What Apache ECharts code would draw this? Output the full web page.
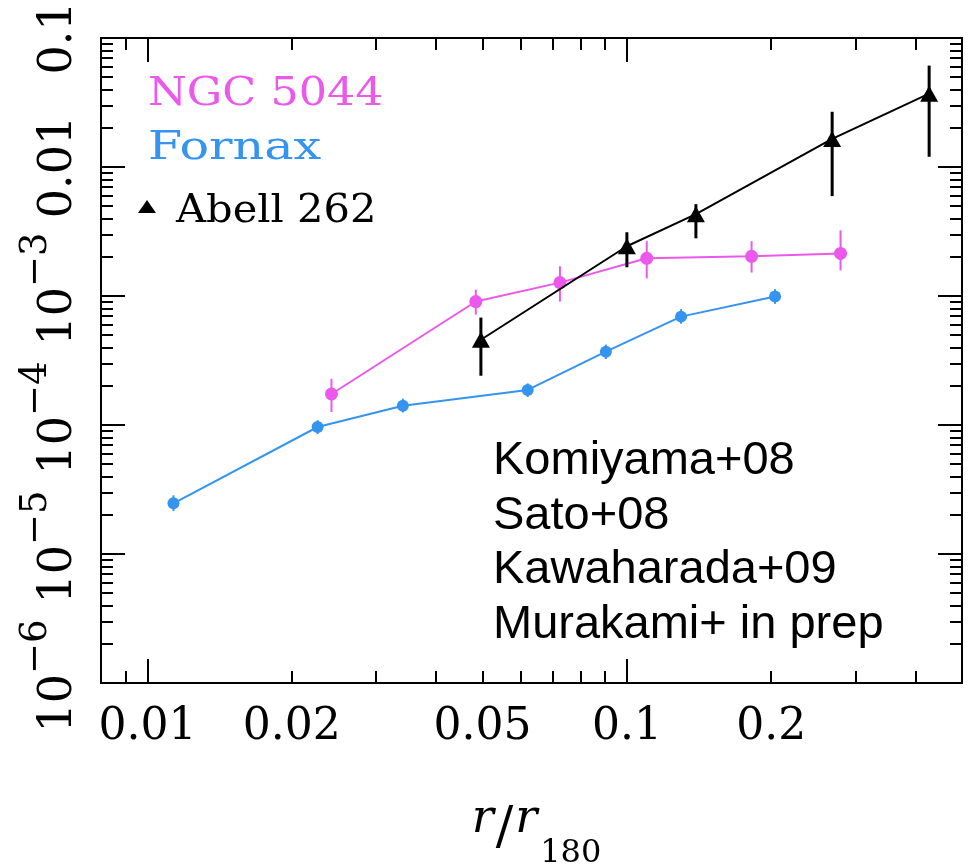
<!DOCTYPE html>
<html>
<head>
<meta charset="utf-8">
<script src="https://cdn.jsdelivr.net/npm/echarts@6/dist/echarts.min.js"></script>
<style>
  html, body { margin: 0; padding: 0; background: #fff; }
  #chart { width: 971px; height: 866px; }
</style>
</head>
<body>
<div id="chart"></div>
<script>
// ---- radial profiles (x = r/r180) ----
const ngcX  = [0.0242, 0.0484, 0.0725, 0.110, 0.182, 0.279];
const ngcY  = [1.74e-4, 9.06e-4, 1.27e-3, 1.96e-3, 2.03e-3, 2.14e-3];
const ngcLo = [1.26e-4, 7.18e-4, 9.06e-4, 1.37e-3, 1.52e-3, 1.58e-3];
const ngcHi = [2.28e-4, 1.12e-3, 1.70e-3, 2.66e-3, 2.66e-3, 3.23e-3];

const fnxX  = [0.01133, 0.02264, 0.0341, 0.0621, 0.0904, 0.1297, 0.2037];
const fnxY  = [2.47e-5, 9.65e-5, 1.41e-4, 1.87e-4, 3.70e-4, 6.92e-4, 9.9e-4];
const fnxLo = [2.15e-5, 8.5e-5, 1.25e-4, 1.65e-4, 3.25e-4, 6.1e-4, 8.7e-4];
const fnxHi = [2.85e-5, 1.09e-4, 1.6e-4, 2.1e-4, 4.2e-4, 7.9e-4, 1.13e-3];

const a262X  = [0.0496, 0.100, 0.1393, 0.268, 0.427];
const a262Y  = [4.58e-4, 2.43e-3, 4.31e-3, 1.65e-2, 3.70e-2];
const a262Lo = [2.41e-4, 1.67e-3, 2.80e-3, 5.95e-3, 1.20e-2];
const a262Hi = [6.80e-4, 3.12e-3, 5.15e-3, 2.68e-2, 6.11e-2];

// ---- axes ----
const xRange = [0.008, 0.5];
const yRange = [1e-6, 0.1];
const xLabelValues = [0.01, 0.02, 0.05, 0.1, 0.2];
const xLabelText   = ['0.01', '0.02', '0.05', '0.1', '0.2'];
const xMajorTicks  = [0.01, 0.1];
const xMinorTicks  = [0.008, 0.009, 0.02, 0.03, 0.04, 0.05, 0.06, 0.07, 0.08, 0.09,
                      0.2, 0.3, 0.4, 0.5];
const yLabelValues = [1e-6, 1e-5, 1e-4, 1e-3, 0.01, 0.1];
const yLabelBase   = ['10', '10', '10', '10', '0.01', '0.1'];
const yLabelExp    = ['−6', '−5', '−4', '−3', '', ''];
const yMajorTicks  = [1e-6, 1e-5, 1e-4, 1e-3, 0.01, 0.1];
const yMinorTicks  = [];
[1e-6, 1e-5, 1e-4, 1e-3, 0.01].forEach(function (d) {
  for (let k = 2; k <= 9; k++) yMinorTicks.push(+(d * k).toPrecision(3));
});

const INK = '#000';
const PINK = '#ec58ec';
const BLUE = '#3494f0';
const SERIF = '"DejaVu Serif", "Liberation Serif", serif';

function pairs(xs, ys) { return xs.map(function (x, i) { return [x, ys[i]]; }); }
function idxOf(arr, v) {
  for (let i = 0; i < arr.length; i++) if (Math.abs(Math.log10(arr[i]) - Math.log10(v)) < 1e-6) return i;
  return -1;
}

function xAxisDef(pos, ticks, len, labels) {
  return {
    type: 'log', logBase: 10, min: xRange[0], max: xRange[1], position: pos,
    axisLine: { show: true, onZero: false, lineStyle: { color: INK, width: 2 } },
    axisTick: { show: true, inside: true, length: len, customValues: ticks,
                lineStyle: { color: INK, width: 2 } },
    axisLabel: labels ? {
      show: true, customValues: xLabelValues, margin: 23,
      fontFamily: SERIF, fontSize: 44, lineHeight: 44, color: INK,
      formatter: function (v) { const i = idxOf(xLabelValues, v); return i >= 0 ? xLabelText[i] : ''; }
    } : { show: false },
    splitLine: { show: false }, minorTick: { show: false },
    name: labels ? '{i|r}{n|/}{i|r}{s|180}' : '',
    nameLocation: 'middle', nameGap: 114,
    nameTextStyle: {
      color: INK, padding: [0, 0, 0, 10],
      rich: {
        i: { fontFamily: SERIF, fontStyle: 'italic', fontSize: 46, verticalAlign: 'top', color: INK },
        n: { fontFamily: SERIF, fontSize: 52, padding: [6, 2, 0, 2], verticalAlign: 'top', color: INK },
        s: { fontFamily: SERIF, fontSize: 32, padding: [41, 0, 0, 3], verticalAlign: 'top', color: INK }
      }
    }
  };
}

function yAxisDef(pos, ticks, len, labels) {
  return {
    type: 'log', logBase: 10, min: yRange[0], max: yRange[1], position: pos,
    axisLine: { show: true, onZero: false, lineStyle: { color: INK, width: 2 } },
    axisTick: { show: true, inside: true, length: len, customValues: ticks,
                lineStyle: { color: INK, width: 2 } },
    axisLabel: labels ? {
      show: true, customValues: yLabelValues, rotate: 90, margin: 19, color: INK,
      formatter: function (v) {
        const i = idxOf(yLabelValues, v);
        if (i < 0) return '';
        return yLabelExp[i] ? '{e|' + yLabelBase[i] + '}{s|' + yLabelExp[i] + '}' : '{b|' + yLabelBase[i] + '}';
      },
      rich: {
        b: { fontFamily: SERIF, fontSize: 46, lineHeight: 64, verticalAlign: 'bottom', color: INK },
        e: { fontFamily: SERIF, fontSize: 46, lineHeight: 64, verticalAlign: 'bottom', padding: [0, 0, 0, 14], color: INK },
        s: { fontFamily: SERIF, fontSize: 37, lineHeight: 44, verticalAlign: 'top', color: INK }
      }
    } : { show: false },
    splitLine: { show: false }, minorTick: { show: false }
  };
}

function errorBars(name, xs, lo, hi, color, width, z) {
  return {
    type: 'custom', name: name + ' err', xAxisIndex: 0, yAxisIndex: 0, z: z,
    encode: { x: 0, y: [1, 2] },
    data: xs.map(function (x, i) { return [x, lo[i], hi[i]]; }),
    renderItem: function (params, api) {
      const a = api.coord([api.value(0), api.value(1)]);
      const b = api.coord([api.value(0), api.value(2)]);
      return { type: 'line', shape: { x1: a[0], y1: a[1], x2: b[0], y2: b[1] },
               style: { stroke: color, lineWidth: width } };
    }
  };
}

function profile(name, xs, ys, color, symbol, size, z) {
  return {
    type: 'line', name: name, xAxisIndex: 0, yAxisIndex: 0, z: z,
    data: pairs(xs, ys), symbol: symbol, symbolSize: size,
    lineStyle: { color: color, width: 2 }, itemStyle: { color: color },
    emphasis: { disabled: true }
  };
}

function legendText(text, color, x, y, sx) {
  return { type: 'text', x: x, y: y, scaleX: sx,
           style: { text: text, fill: color, font: '40px ' + SERIF, align: 'left', verticalAlign: 'middle' } };
}

const chart = echarts.init(document.getElementById('chart'), null, { renderer: 'canvas' });
chart.setOption({
  animation: false,
  backgroundColor: '#fff',
  grid: { left: 101, right: 9, top: 38, bottom: 183, containLabel: false, outerBoundsMode: 'none' },
  xAxis: [
    xAxisDef('bottom', xMajorTicks, 24, true),
    xAxisDef('bottom', xMinorTicks, 12, false),
    xAxisDef('top', xMajorTicks, 24, false),
    xAxisDef('top', xMinorTicks, 12, false)
  ],
  yAxis: [
    yAxisDef('left', yMajorTicks, 24, true),
    yAxisDef('left', yMinorTicks, 12, false),
    yAxisDef('right', yMajorTicks, 24, false),
    yAxisDef('right', yMinorTicks, 12, false)
  ],
  series: [
    profile('Fornax', fnxX, fnxY, BLUE, 'circle', 12, 2),
    errorBars('Fornax', fnxX, fnxLo, fnxHi, BLUE, 2, 2),
    profile('NGC 5044', ngcX, ngcY, PINK, 'circle', 13, 3),
    errorBars('NGC 5044', ngcX, ngcLo, ngcHi, PINK, 2, 3),
    profile('Abell 262', a262X, a262Y, INK, 'triangle', [18, 16], 4),
    errorBars('Abell 262', a262X, a262Lo, a262Hi, INK, 3, 4)
  ],
  graphic: [
    legendText('NGC 5044', PINK, 148, 95, 1.11),
    legendText('Fornax', BLUE, 148, 149, 1.23),
    { type: 'polygon', shape: { points: [[147, 200], [138, 213], [156, 213]] }, style: { fill: INK } },
    legendText('Abell 262', INK, 176, 212, 1.04),
    { type: 'text', left: 493, top: 434,
      style: { text: 'Komiyama+08\nSato+08\nKawaharada+09\nMurakami+ in prep',
               fill: INK, font: '47px "Liberation Sans", Arial, sans-serif', lineHeight: 54.5 } }
  ]
});
</script>
</body>
</html>
